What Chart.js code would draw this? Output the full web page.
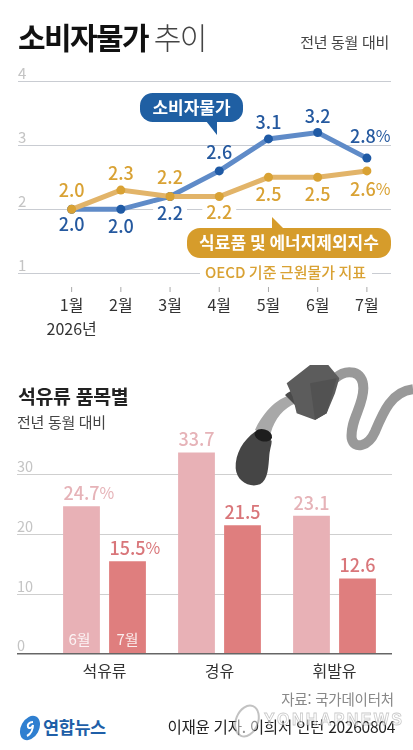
<!DOCTYPE html>
<html lang="ko">
<head>
<meta charset="utf-8">
<title>소비자물가 추이</title>
<script src="https://cdn.jsdelivr.net/npm/chart.js@4"></script>
<style>
  html, body { margin: 0; padding: 0; background: #fff; }
  body { position: relative; width: 413px; height: 750px; overflow: hidden; font-family: "Noto Sans CJK KR", "Noto Sans", sans-serif; }
  .box, svg, .t { position: absolute; }
  .t { white-space: nowrap; line-height: 1; }
</style>
</head>
<body>
<div class="box" style="left:0;top:0;width:413px;height:345px"><canvas id="cpiChart" width="413" height="345"></canvas></div>
<div class="box" style="left:0;top:340px;width:413px;height:350px"><canvas id="oilChart" width="413" height="350"></canvas></div>

<div class="t" style="left:18px;top:21px;font-size:30px;font-weight:700;letter-spacing:-1.6px;color:#111">소비자물가 <span style="font-weight:300;color:#444;margin-left:-1px">추이</span></div>
<div class="t" style="right:24px;top:34px;font-size:15px;color:#444;letter-spacing:-.3px">전년 동월 대비</div>
<div class="t" style="left:18px;top:386px;font-size:19.5px;font-weight:700;letter-spacing:-.4px;color:#222">석유류 품목별</div>
<div class="t" style="left:17px;top:414px;font-size:15px;color:#444;letter-spacing:-.3px">전년 동월 대비</div>
<div class="t" style="right:19px;top:692px;font-size:14.5px;color:#888;letter-spacing:-.2px">자료: 국가데이터처</div>
<div class="t" style="left:43px;top:718px;font-size:17.5px;font-weight:700;color:#1f5fa8;letter-spacing:-.4px">연합뉴스</div>
<div class="t" style="right:18px;top:719px;font-size:15.6px;color:#222;letter-spacing:-.3px">이재윤 기자. 이희서 인턴 20260804</div>

<!-- pump nozzle, logo -->
<svg width="213" height="160" viewBox="0 0 639 480" style="left:200px;top:350px">
  <path d="M405 85 C440 55 490 60 490 115 C490 170 450 210 455 265 C462 300 505 290 525 245 C550 185 575 125 639 118" fill="none" stroke="#999" stroke-width="30"/>
  <path d="M165 240 C185 195 225 145 280 132 L288 160 C250 175 225 205 212 250 Z" fill="#a8a8a8"/>
  <path d="M165 245 C130 270 105 310 107 355 C110 395 150 415 180 403 C205 390 205 350 208 315 C210 295 215 285 215 272 Z" fill="#454545"/>
  <ellipse cx="190" cy="256" rx="27" ry="18" transform="rotate(15 190 256)" fill="#1e1e1e"/>
  <path d="M255 135 C270 120 295 115 310 130 L315 165 L285 165 Z" fill="#4a4a4a"/>
  <path d="M260 100 L330 45 L385 45 L418 85 L405 130 L380 190 L345 210 L290 190 L278 140 Z" fill="#5c5c5c"/>
  <path d="M330 100 L410 85 L380 190 L345 210 Z" fill="#525252"/>
</svg>
<svg width="24" height="28" viewBox="0 0 24 28" style="left:18px;top:714px">
  <ellipse cx="12" cy="14" rx="9" ry="13" transform="rotate(28 12 14)" fill="#2f7fd0"/>
  <path d="M15 8 C11 8 9 11 10 13 C11 15 14 14 15 11 C15 15 13 20 9 22" fill="none" stroke="#fff" stroke-width="2"/>
</svg>
<!-- watermark -->
<svg width="180" height="46" style="left:228px;top:697px">
  <ellipse cx="19" cy="24" rx="11" ry="16" transform="rotate(22 19 24)" fill="rgba(255,255,255,.5)" stroke="rgba(120,120,120,.45)" stroke-width="2"/>
  <text x="36" y="28" font-size="16" font-weight="700" font-family="Liberation Sans" fill="rgba(255,255,255,.55)" stroke="rgba(120,120,120,.4)" stroke-width=".8" textLength="138">YONHAPNEWS</text>
</svg>

<script>
// 소비자물가 (전년 동월 대비, %)
const months = ['1월', '2월', '3월', '4월', '5월', '6월', '7월'];
const yearLabel = '2026년';
const cpi = [2.0, 2.0, 2.2, 2.6, 3.1, 3.2, 2.8];
const core = [2.0, 2.3, 2.2, 2.2, 2.5, 2.5, 2.6];
const cpiTicks = [1, 2, 3, 4];

// 석유류 품목별
const products = ['석유류', '경유', '휘발유'];
const june = [24.7, 33.7, 23.1];
const july = [15.5, 21.5, 12.6];
const oilTicks = [0, 10, 20, 30];

const FONT = '"Noto Sans CJK KR", "Noto Sans", sans-serif';
const BLUE = '#25599f', GOLD = '#d9a234';

// label offsets from the point they belong to
const cpiLabelDy = [15, 17, 17, -19, -17, -16, -22];
const coreLabelDy = [-19, -17, -19, 16, 17, 17, 18];

function drawValue(ctx, text, x, y, color, size, suffix, opts) {
    ctx.font = `500 ${size}px ${FONT}`;
    ctx.textAlign = 'center';
    ctx.textBaseline = 'middle';
    const w = ctx.measureText(text).width;
    if (opts && opts.clear) {
        ctx.fillStyle = '#fff';
        ctx.fillRect(x - w / 2 - 4, y - size / 2 - 1, w + 8, size + 2);
    }
    ctx.fillStyle = color;
    ctx.fillText(text, x, y);
    if (suffix) {
        ctx.font = `400 ${size - 2}px ${FONT}`;
        ctx.textAlign = 'left';
        ctx.fillText(suffix, x + w / 2, y);
    }
}

function callout(ctx, x, y, w, h, color, text, size, tail) {
    ctx.fillStyle = color;
    ctx.beginPath();
    ctx.roundRect(x, y, w, h, h / 2.3);
    ctx.fill();
    ctx.beginPath();
    ctx.moveTo(tail[0], tail[1]);
    ctx.lineTo(tail[2], tail[3]);
    ctx.lineTo(tail[4], tail[5]);
    ctx.closePath();
    ctx.fill();
    ctx.fillStyle = '#fff';
    ctx.font = `700 ${size}px ${FONT}`;
    ctx.textAlign = 'center';
    ctx.textBaseline = 'middle';
    ctx.fillText(text, x + w / 2, y + h / 2);
}

const cpiDecor = {
    id: 'cpiDecor',
    afterDatasetsDraw(chart) {
        const { ctx, scales: { x, y } } = chart;
        ctx.save();
        // x tick marks sit below the lowest grid line
        ctx.strokeStyle = '#aaa';
        ctx.lineWidth = 1;
        months.forEach((m, i) => {
            const px = x.getPixelForValue(i + 1);
            ctx.beginPath();
            ctx.moveTo(px, 287);
            ctx.lineTo(px, 292);
            ctx.stroke();
        });
        cpi.forEach((v, i) => {
            const last = i === cpi.length - 1;
            drawValue(ctx, v.toFixed(1), x.getPixelForValue(i + 1) - (last ? 4 : 0), y.getPixelForValue(v) + cpiLabelDy[i],
                BLUE, 18, last ? '%' : '', { clear: i === 2 });
        });
        core.forEach((v, i) => {
            const last = i === core.length - 1;
            drawValue(ctx, v.toFixed(1), x.getPixelForValue(i + 1) - (last ? 4 : 0), y.getPixelForValue(v) + coreLabelDy[i],
                GOLD, 18, last ? '%' : '', { clear: i === 3 });
        });
        callout(ctx, 140, 93, 103, 29, '#1f5fa3', '소비자물가', 17, [206, 121, 217, 135, 217, 121]);
        callout(ctx, 187, 228, 204, 30, '#d69c2b', '식료품 및 에너지제외지수', 17, [272, 229, 272, 217, 284, 229]);
        ctx.font = `500 15px ${FONT}`;
        ctx.textAlign = 'center';
        ctx.textBaseline = 'middle';
        ctx.fillStyle = '#fff';
        ctx.fillRect(200, 264, 172, 18);
        ctx.fillStyle = GOLD;
        ctx.fillText('OECD 기준 근원물가 지표', 285.5, 272);
        ctx.restore();
    },
};

new Chart(document.getElementById('cpiChart'), {
    type: 'line',
    data: {
        datasets: [
            { data: core.map((v, i) => ({ x: i + 1, y: v })), borderColor: '#e2b469', pointBackgroundColor: GOLD },
            { data: cpi.map((v, i) => ({ x: i + 1, y: v })), borderColor: '#5f8bc8', pointBackgroundColor: '#1f5aa5' },
        ],
    },
    options: {
        responsive: false,
        animation: false,
        layout: { padding: { top: 81.3, left: 18, right: 22, bottom: 0 } },
        elements: {
            line: { borderWidth: 5, tension: 0 },
            point: { radius: 4.5, borderWidth: 0, hoverRadius: 4.5 },
        },
        plugins: { legend: { display: false }, tooltip: { enabled: false } },
        scales: {
            x: {
                type: 'linear',
                min: -0.09,
                max: 7.49,
                grid: { display: false },
                border: { display: false },
                afterBuildTicks: s => { s.ticks = months.map((m, i) => ({ value: i + 1 })); },
                afterFit: s => { s.height = 71.7; },
                ticks: {
                    autoSkip: false,
                    maxRotation: 0,
                    padding: 12,
                    color: '#333',
                    font: { family: FONT, size: 16, lineHeight: 1.5 },
                    callback: v => (v === 1 ? [months[0], yearLabel] : months[v - 1]),
                },
            },
            y: {
                min: 1,
                max: 4,
                grid: { color: '#c9ccd2', drawTicks: false },
                border: { display: false },
                afterBuildTicks: s => { s.ticks = cpiTicks.map(v => ({ value: v })); },
                ticks: {
                    mirror: true,
                    padding: 0,
                    labelOffset: -8,
                    color: '#c4c4c4',
                    font: { family: FONT, size: 15 },
                },
            },
        },
    },
    plugins: [cpiDecor],
});

const oilDecor = {
    id: 'oilDecor',
    afterDatasetsDraw(chart) {
        const { ctx, scales: { y } } = chart;
        ctx.save();
        [[june, '#e6b3b8'], [july, '#d9767a']].forEach(([vals, color], d) => {
            const bars = chart.getDatasetMeta(d).data;
            vals.forEach((v, i) => {
                drawValue(ctx, v.toFixed(1), bars[i].x, y.getPixelForValue(v) - 13, color, 18, i === 0 ? '%' : '');
            });
        });
        ctx.font = `400 15px ${FONT}`;
        ctx.textAlign = 'center';
        ctx.textBaseline = 'middle';
        ctx.fillStyle = 'rgba(255,255,255,.85)';
        ctx.fillText('6월', chart.getDatasetMeta(0).data[0].x - 2, y.getPixelForValue(0) - 14);
        ctx.fillText('7월', chart.getDatasetMeta(1).data[0].x, y.getPixelForValue(0) - 14);
        ctx.restore();
    },
};

new Chart(document.getElementById('oilChart'), {
    type: 'bar',
    data: {
        labels: products,
        datasets: [
            { data: june, backgroundColor: '#e8b1b6' },
            { data: july, backgroundColor: '#df7e7e' },
        ],
    },
    options: {
        responsive: false,
        animation: false,
        layout: { padding: { top: 104.75, left: 17, right: 21, bottom: 0 } },
        datasets: { bar: { barPercentage: 0.8, categoryPercentage: 0.8 } },
        plugins: { legend: { display: false }, tooltip: { enabled: false } },
        scales: {
            x: {
                grid: { display: false },
                border: { display: false },
                afterFit: s => { s.height = 36.3; },
                ticks: { padding: 0, color: '#333', font: { family: FONT, size: 16 } },
            },
            y: {
                min: 0,
                max: 35,
                grid: {
                    tickLength: 30,
                    color: c => (c.tick.value === 0 ? '#666' : '#cfcfcf'),
                    lineWidth: c => (c.tick.value === 0 ? 1.5 : 1),
                },
                border: { display: false },
                afterBuildTicks: s => { s.ticks = oilTicks.map(v => ({ value: v })); },
                afterFit: s => { s.width = 30; },
                ticks: {
                    mirror: true,
                    padding: -30,
                    labelOffset: -8,
                    color: '#c4c4c4',
                    font: { family: FONT, size: 14.5 },
                },
            },
        },
    },
    plugins: [oilDecor],
});
</script>
</body>
</html>
